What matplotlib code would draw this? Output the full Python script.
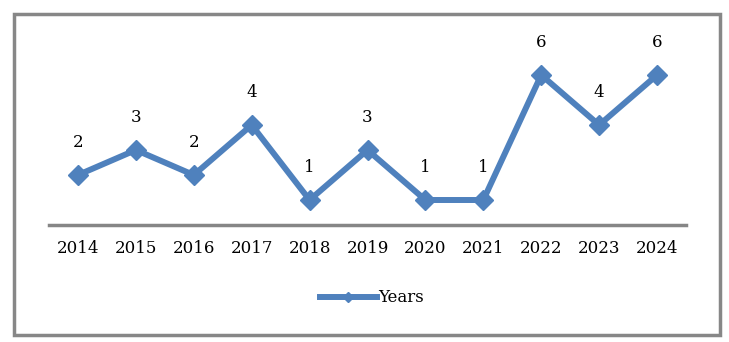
import matplotlib.pyplot as plt
from matplotlib.patches import Rectangle

years = ['2014', '2015', '2016', '2017', '2018', '2019', '2020', '2021', '2022', '2023', '2024']
counts = [2, 3, 2, 4, 1, 3, 1, 1, 6, 4, 6]

blue = '#4F81BD'
plt.rcParams['font.family'] = ['DejaVu Serif']

fig = plt.figure(figsize=(7.29, 3.42), dpi=100)
ax = fig.add_axes([49/729, 117/342, 637/729, 175/342])

x = list(range(len(years)))
ax.plot(x, counts, color=blue, lw=4.3, marker='D', ms=10, label='Years', solid_joinstyle='miter')
for xi, v in zip(x, counts):
    ax.annotate(str(v), (xi, v), xytext=(0, 17), textcoords='offset points',
                ha='center', va='bottom', fontsize=12)

ax.set_xlim(-0.5, len(years) - 0.5)
ax.set_ylim(0, 7)
ax.set_xticks(x)
ax.set_xticklabels(years, fontsize=12)
ax.tick_params(axis='x', length=0, pad=11)
ax.set_yticks([])
for s in ['left', 'right', 'top']:
    ax.spines[s].set_visible(False)
ax.spines['bottom'].set_color('#868686')
ax.spines['bottom'].set_linewidth(2.5)

leg = ax.legend(loc='center', bbox_to_anchor=(372/729, 1 - 298/342), bbox_transform=fig.transFigure,
                frameon=False, fontsize=12, handlelength=3.4, handletextpad=0.1, markerscale=0.5)

fig.patches.append(Rectangle((14/729, 7/342), 706/729, 321/342, transform=fig.transFigure,
                             fill=False, edgecolor='#878787', lw=2.5))

fig.savefig('out.png', dpi=100)
